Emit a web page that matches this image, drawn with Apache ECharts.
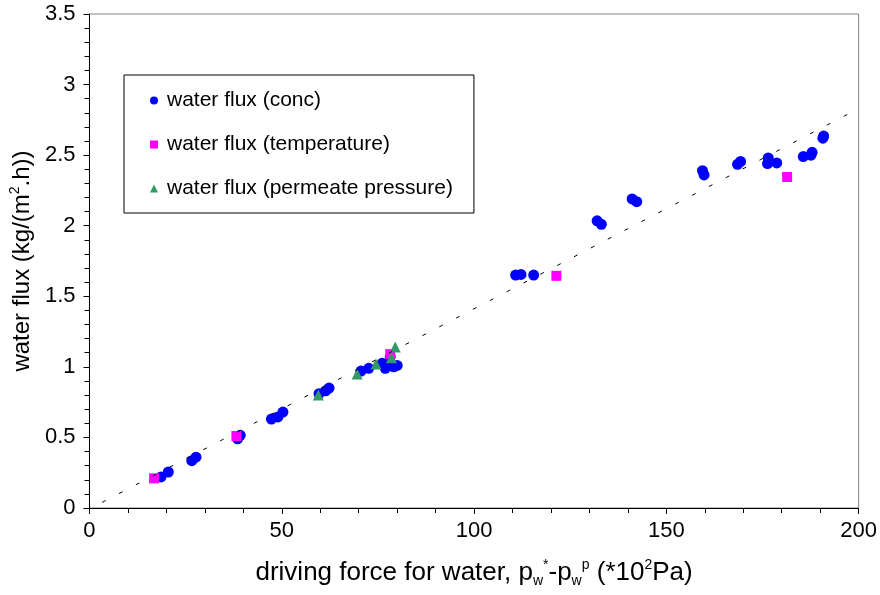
<!DOCTYPE html>
<html>
<head>
<meta charset="utf-8">
<script src="https://cdn.jsdelivr.net/npm/echarts@6/dist/echarts.min.js"></script>
<style>html,body{margin:0;padding:0;background:#fff;}#c{width:880px;height:595px;}</style>
</head>
<body>
<div id="c"></div>
<script>
// Series: water flux (conc)
var concX = [18.6, 20.5, 26.6, 27.7, 38.5, 39.2, 47.3, 49.0, 50.3, 59.7, 61.4, 62.3, 70.6, 72.6, 76.1, 76.9, 78.2, 78.2, 79.1, 80.0, 110.8, 112.2, 115.5, 132.0, 133.1, 141.1, 142.3, 159.4, 159.8, 168.5, 169.3, 176.3, 176.5, 178.7, 185.6, 187.6, 187.9, 190.7, 190.9, 201.2];
var concY = [0.22, 0.255, 0.335, 0.36, 0.49, 0.515, 0.63, 0.645, 0.68, 0.81, 0.83, 0.85, 0.97, 0.99, 1.025, 0.99, 1.02, 1.07, 1.0, 1.01, 1.65, 1.655, 1.65, 2.035, 2.01, 2.19, 2.17, 2.39, 2.36, 2.435, 2.455, 2.44, 2.48, 2.445, 2.49, 2.50, 2.52, 2.62, 2.635, 3.34];
// Series: water flux (temperature)
var tempX = [16.8, 38.2, 78.2, 121.4, 181.4];
var tempY = [0.21, 0.51, 1.09, 1.645, 2.345];
// Series: water flux (permeate pressure)
var permX = [59.5, 69.6, 74.5, 78.5, 79.5];
var permY = [0.80, 0.95, 1.02, 1.065, 1.14];
// Trend line end points
var trendX = [3.3, 197.9];
var trendY = [0.04, 2.80];
// Axis ticks
var xTicks = {min: 0, max: 200, interval: 50};
var yTicks = {min: 0, max: 3.5, interval: 0.5};
var seriesNames = ['water flux (conc)', 'water flux (temperature)', 'water flux (permeate pressure)'];

function pairs(xs, ys) { return xs.map(function (x, i) { return [x, ys[i]]; }); }

var FONT = '"Liberation Sans", Arial, sans-serif';
var chart = echarts.init(document.getElementById('c'), null, {renderer: 'canvas'});
chart.setOption({
  animation: false,
  backgroundColor: '#ffffff',
  textStyle: {fontFamily: FONT},
  grid: {left: 88, right: 19, top: 14, bottom: 87, show: true, borderColor: '#808080', borderWidth: 1, backgroundColor: 'transparent'},
  legend: {
    show: true,
    orient: 'vertical',
    left: 124,
    top: 75,
    data: [
      {name: seriesNames[0], icon: 'circle'},
      {name: seriesNames[1], icon: 'rect'},
      {name: seriesNames[2], icon: 'triangle'}
    ],
    itemWidth: 8,
    itemHeight: 8,
    itemGap: 23,
    padding: [15, 21, 14, 26],
    borderColor: '#000',
    borderWidth: 1,
    backgroundColor: '#fff',
    itemStyle: {opacity: 1},
    textStyle: {fontFamily: FONT, fontSize: 21, color: '#000', padding: [0, 0, 0, 4]},
    selectedMode: false
  },
  xAxis: {
    type: 'value',
    min: xTicks.min, max: xTicks.max, interval: xTicks.interval,
    name: '{a|driving force for water, p}{sub|w}{sup|*}{a|-p}{sub|w}{sup|p}{a| (*10}{sup|2}{a|Pa)}',
    nameLocation: 'middle',
    nameGap: 50,
    nameTextStyle: {
      fontFamily: FONT, color: '#000',
      rich: {
        a: {fontSize: 26, fontFamily: FONT, color: '#000', lineHeight: 30, verticalAlign: 'middle'},
        sub: {fontSize: 14, fontFamily: FONT, color: '#000', lineHeight: 14, verticalAlign: 'bottom'},
        sup: {fontSize: 14, fontFamily: FONT, color: '#000', lineHeight: 14, verticalAlign: 'top'}
      }
    },
    axisLine: {show: true, onZero: false, lineStyle: {color: '#000', width: 1}},
    axisTick: {show: true, inside: false, length: 6, lineStyle: {color: '#000'}},
    minorTick: {show: true, splitNumber: 5, length: 5, lineStyle: {color: '#000'}},
    splitLine: {show: false},
    minorSplitLine: {show: false},
    axisLabel: {fontSize: 22, color: '#000', fontFamily: FONT, margin: 12}
  },
  yAxis: {
    type: 'value',
    min: yTicks.min, max: yTicks.max, interval: yTicks.interval,
    name: '{a|water flux (kg/(m}{sup|2}{a|.h))}',
    nameLocation: 'middle',
    nameGap: 39,
    nameRotate: 90,
    nameTextStyle: {
      fontFamily: FONT, color: '#000',
      rich: {
        a: {fontSize: 24, fontFamily: FONT, color: '#000', lineHeight: 28, verticalAlign: 'middle'},
        sup: {fontSize: 14, fontFamily: FONT, color: '#000', lineHeight: 14, verticalAlign: 'top'}
      }
    },
    axisLine: {show: true, onZero: false, lineStyle: {color: '#000', width: 1}},
    axisTick: {show: true, inside: false, length: 6, lineStyle: {color: '#000'}},
    minorTick: {show: true, splitNumber: 5, length: 5, lineStyle: {color: '#000'}},
    splitLine: {show: false},
    minorSplitLine: {show: false},
    axisLabel: {fontSize: 22, color: '#000', fontFamily: FONT, margin: 14}
  },
  series: [
    {
      name: seriesNames[0], type: 'scatter', symbol: 'circle', symbolSize: 11,
      itemStyle: {color: '#0000ff', opacity: 1}, data: pairs(concX, concY), clip: true, z: 2
    },
    {
      name: seriesNames[1], type: 'scatter', symbol: 'rect', symbolSize: 10,
      itemStyle: {color: '#ff00ff', opacity: 1}, data: pairs(tempX, tempY), clip: true, z: 3
    },
    {
      name: seriesNames[2], type: 'scatter', symbol: 'triangle', symbolSize: 11,
      itemStyle: {color: '#339966', opacity: 1}, data: pairs(permX, permY), clip: true, z: 4
    },
    {
      name: 'trend', type: 'line', symbol: 'none', silent: true,
      lineStyle: {color: '#000', width: 1, type: [4, 15]},
      data: pairs(trendX, trendY), z: 5
    }
  ]
});
</script>
</body>
</html>
